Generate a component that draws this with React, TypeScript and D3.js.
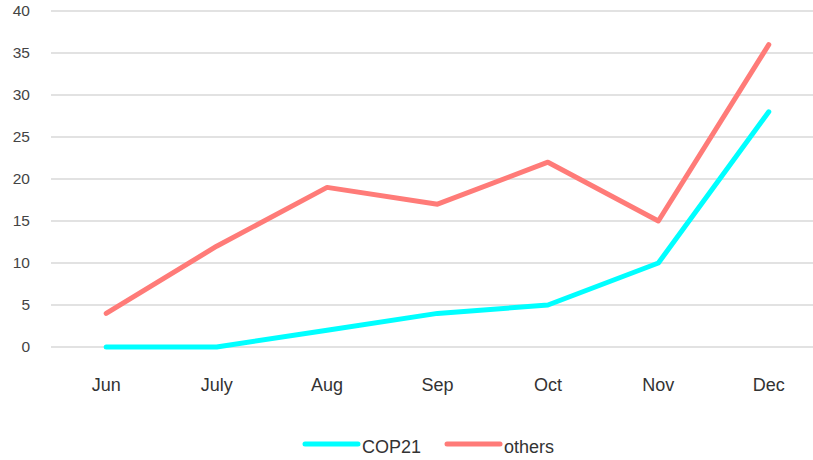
import React, {useEffect, useRef} from 'react';
import * as d3 from 'd3';

const months = ['Jun', 'July', 'Aug', 'Sep', 'Oct', 'Nov', 'Dec'];
const cop21 = [0, 0, 2, 4, 5, 10, 28];
const others = [4, 12, 19, 17, 22, 15, 36];
const yTicks = [0, 5, 10, 15, 20, 25, 30, 35, 40];

const series = [
    {name: 'COP21', values: cop21, color: '#00ffff'},
    {name: 'others', values: others, color: '#ff7b78'},
];

const App = () => {
    const ref = useRef<SVGSVGElement>(null);

    useEffect(() => {
        const svg = d3.select(ref.current);
        svg.selectAll('*').remove();

        const width = 813;
        const font = '"Liberation Sans", Arial, sans-serif';

        const x = d3.scaleBand<string>()
            .domain(months)
            .range([51, 824])
            .padding(0);

        const y = d3.scaleLinear()
            .domain([0, 40])
            .range([347, 11]);

        const cx = (m: string) => (x(m) as number) + x.bandwidth() / 2;

        // grid
        svg.append('g')
            .selectAll('line')
            .data(yTicks)
            .enter().append('line')
            .attr('x1', 51)
            .attr('x2', width)
            .attr('y1', d => y(d))
            .attr('y2', d => y(d))
            .attr('stroke', '#d9d9d9')
            .attr('stroke-width', 1.5);

        // y labels
        svg.append('g')
            .selectAll('text')
            .data(yTicks)
            .enter().append('text')
            .attr('x', 30)
            .attr('y', d => y(d))
            .attr('dy', '0.35em')
            .attr('text-anchor', 'end')
            .attr('font-family', font)
            .attr('font-size', 15.5)
            .attr('fill', '#444')
            .text(d => d);

        // x labels
        svg.append('g')
            .selectAll('text')
            .data(months)
            .enter().append('text')
            .attr('x', d => cx(d))
            .attr('y', 391)
            .attr('text-anchor', 'middle')
            .attr('font-family', font)
            .attr('font-size', 18)
            .attr('fill', '#333')
            .text(d => d);

        const line = d3.line<number>()
            .x((_, i) => cx(months[i]))
            .y(d => y(d));

        series.forEach(s => {
            svg.append('path')
                .datum(s.values)
                .attr('d', line)
                .attr('fill', 'none')
                .attr('stroke', s.color)
                .attr('stroke-width', 5)
                .attr('stroke-linecap', 'round')
                .attr('stroke-linejoin', 'round');
        });

        // legend
        const legend = svg.append('g');
        const legendX = [305, 447];
        series.forEach((s, i) => {
            legend.append('line')
                .attr('x1', legendX[i])
                .attr('x2', legendX[i] + 53)
                .attr('y1', 444)
                .attr('y2', 444)
                .attr('stroke', s.color)
                .attr('stroke-width', 5)
                .attr('stroke-linecap', 'round');
            legend.append('text')
                .attr('x', legendX[i] + 57)
                .attr('y', 453)
                .attr('font-family', font)
                .attr('font-size', 18)
                .attr('fill', '#333')
                .text(s.name);
        });
    }, []);

    return (
        <svg ref={ref} width={813} height={460} style={{position: 'absolute', left: 0, top: 0}}/>
    );
};

export default App;
